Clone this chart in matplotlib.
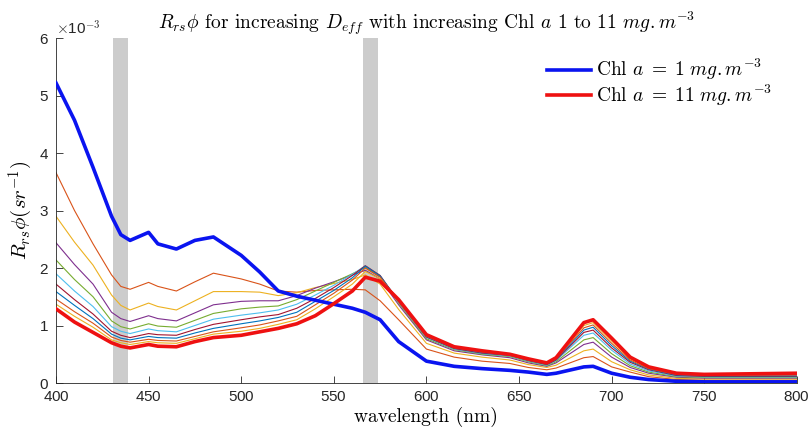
import numpy as np
import matplotlib.pyplot as plt

plt.rcParams['mathtext.fontset'] = 'cm'
plt.rcParams['axes.formatter.use_mathtext'] = True

# wavelength grid (nm) and Rrs*phi curves, in units of 1e-3 sr^-1
wl = [400, 410, 420, 430, 435, 440, 450, 455, 465, 475, 485, 500, 510, 520, 530, 540,
      550, 560, 567, 575, 585, 600, 615, 630, 645, 655, 665, 670, 685, 690, 700, 710,
      720, 735, 750, 800]

chl1 = [5.22, 4.57, 3.75, 2.90, 2.58, 2.48, 2.62, 2.42, 2.33, 2.48, 2.54, 2.22, 1.93, 1.60, 1.51, 1.44,
        1.37, 1.30, 1.23, 1.10, 0.72, 0.38, 0.29, 0.25, 0.22, 0.19, 0.15, 0.17, 0.28, 0.29, 0.17, 0.10,
        0.06, 0.03, 0.02, 0.02]
chl2 = [3.66, 3.00, 2.42, 1.88, 1.68, 1.63, 1.75, 1.68, 1.60, 1.76, 1.91, 1.81, 1.72, 1.60, 1.58, 1.61,
        1.62, 1.63, 1.62, 1.43, 1.10, 0.59, 0.45, 0.38, 0.34, 0.27, 0.23, 0.26, 0.44, 0.46, 0.28, 0.19,
        0.11, 0.06, 0.05, 0.05]
chl3 = [2.90, 2.45, 2.05, 1.53, 1.35, 1.27, 1.39, 1.33, 1.27, 1.43, 1.59, 1.59, 1.58, 1.52, 1.57, 1.66,
        1.73, 1.80, 1.88, 1.72, 1.28, 0.69, 0.52, 0.45, 0.40, 0.32, 0.27, 0.31, 0.56, 0.59, 0.37, 0.23,
        0.14, 0.08, 0.07, 0.07]
chl4 = [2.44, 2.06, 1.72, 1.23, 1.12, 1.07, 1.17, 1.12, 1.08, 1.22, 1.36, 1.42, 1.43, 1.43, 1.52, 1.65,
        1.76, 1.88, 1.96, 1.81, 1.36, 0.75, 0.56, 0.49, 0.44, 0.35, 0.29, 0.35, 0.67, 0.71, 0.45, 0.27,
        0.17, 0.10, 0.085, 0.085]
chl5 = [2.14, 1.80, 1.50, 1.08, 0.98, 0.94, 1.03, 0.99, 0.97, 1.09, 1.21, 1.29, 1.32, 1.34, 1.45, 1.60,
        1.75, 1.90, 2.01, 1.85, 1.39, 0.77, 0.58, 0.50, 0.46, 0.37, 0.30, 0.37, 0.75, 0.79, 0.51, 0.30,
        0.19, 0.11, 0.095, 0.095]
chl6 = [1.90, 1.60, 1.33, 0.98, 0.90, 0.86, 0.94, 0.91, 0.89, 1.00, 1.11, 1.18, 1.22, 1.27, 1.37, 1.53,
        1.70, 1.89, 2.04, 1.87, 1.41, 0.79, 0.59, 0.51, 0.47, 0.38, 0.31, 0.39, 0.83, 0.87, 0.57, 0.33,
        0.21, 0.12, 0.105, 0.105]
chl7 = [1.72, 1.45, 1.20, 0.90, 0.83, 0.79, 0.86, 0.84, 0.83, 0.93, 1.02, 1.10, 1.15, 1.19, 1.30, 1.47,
        1.66, 1.87, 2.04, 1.87, 1.42, 0.80, 0.60, 0.52, 0.48, 0.39, 0.32, 0.40, 0.88, 0.92, 0.61, 0.36,
        0.23, 0.13, 0.115, 0.115]
chl8 = [1.59, 1.35, 1.12, 0.85, 0.78, 0.75, 0.81, 0.79, 0.78, 0.87, 0.95, 1.03, 1.08, 1.14, 1.23, 1.42,
        1.61, 1.83, 2.03, 1.86, 1.43, 0.81, 0.61, 0.53, 0.49, 0.40, 0.33, 0.41, 0.92, 0.97, 0.65, 0.38,
        0.24, 0.14, 0.125, 0.125]
chl9 = [1.46, 1.24, 1.04, 0.80, 0.74, 0.71, 0.76, 0.74, 0.73, 0.81, 0.89, 0.96, 1.01, 1.08, 1.16, 1.36,
        1.56, 1.79, 2.00, 1.84, 1.44, 0.82, 0.62, 0.54, 0.49, 0.40, 0.34, 0.42, 0.96, 1.01, 0.69, 0.40,
        0.25, 0.15, 0.135, 0.14]
chl10 = [1.37, 1.16, 0.97, 0.75, 0.70, 0.67, 0.72, 0.70, 0.69, 0.77, 0.85, 0.90, 0.95, 1.02, 1.10, 1.29,
         1.50, 1.72, 1.94, 1.81, 1.44, 0.82, 0.62, 0.55, 0.50, 0.41, 0.345, 0.43, 1.00, 1.05, 0.73, 0.42,
         0.265, 0.16, 0.14, 0.155]
chl11 = [1.29, 1.06, 0.88, 0.70, 0.64, 0.61, 0.67, 0.64, 0.63, 0.72, 0.79, 0.83, 0.89, 0.95, 1.03, 1.17,
         1.38, 1.60, 1.84, 1.77, 1.45, 0.84, 0.63, 0.56, 0.50, 0.42, 0.35, 0.44, 1.05, 1.10, 0.78, 0.45,
         0.28, 0.17, 0.15, 0.17]

bands = [(431, 439), (566, 574)]

# matlab default color order for the in-between curves
thin_colors = ['#D95319', '#EDB120', '#7E2F8E', '#77AC30', '#4DBEEE', '#A2142F', '#0072BD',
               '#D95319', '#EDB120']
thin = [chl2, chl3, chl4, chl5, chl6, chl7, chl8, chl9, chl10]

fig = plt.figure(figsize=(8.09, 4.30), dpi=100)
ax = fig.add_axes([0.0692, 0.1093, 0.9158, 0.8023])

for lo, hi in bands:
    ax.axvspan(lo, hi, color='#cccccc', lw=0, zorder=0)

for y, c in zip(thin, thin_colors):
    ax.plot(wl, y, color=c, lw=0.8, zorder=2)

ax.plot(wl, chl1, color='#0a14f0', lw=2.6, zorder=3, label=r'Chl $a\;=\;1\ mg.m^{-3}$')
ax.plot(wl, chl11, color='#ee1111', lw=2.6, zorder=3, label=r'Chl $a\;=\;11\ mg.m^{-3}$')

ax.set_xlim(400, 800)
ax.set_ylim(0, 6)
ax.set_xticks(np.arange(400, 801, 50))
ax.set_yticks(np.arange(0, 7, 1))

axc = '#262626'
for s in ['top', 'right']:
    ax.spines[s].set_visible(False)
for s in ['left', 'bottom']:
    ax.spines[s].set_color(axc)
    ax.spines[s].set_linewidth(0.6)
ax.tick_params(direction='in', length=5, width=0.6, colors=axc, labelsize=11,
               labelfontfamily='Liberation Sans', pad=5)

ax.text(0.0, 1.0, r'$\times$10$^{\mathsf{-3}}$', transform=ax.transAxes, ha='left', va='bottom',
        fontsize=11, color=axc, family='Liberation Sans')

ax.set_title(r'$R_{rs}\phi$ for increasing $D_{eff}$ with increasing Chl $a$ 1 to 11 $mg.m^{-3}$',
             family='cmr10', fontsize=14, pad=7)
ax.set_xlabel('wavelength (nm)', family='cmr10', fontsize=14, labelpad=2)
ax.set_ylabel(r'$R_{rs}\phi(sr^{-1})$', fontsize=15, labelpad=3)

leg = ax.legend(loc='upper right', bbox_to_anchor=(0.99, 0.995), frameon=False, handlelength=2.3,
                handletextpad=0.25, labelspacing=0.0, prop={'family': 'cmr10', 'size': 14})

fig.savefig('out.png', dpi=100)
